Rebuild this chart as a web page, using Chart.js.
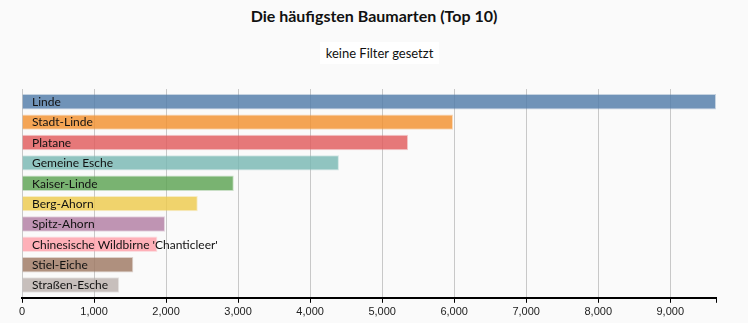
<!DOCTYPE html>
<html>
<head>
<meta charset="utf-8">
<script src="https://cdn.jsdelivr.net/npm/chart.js@4"></script>
<style>
  body { margin: 0; background: #fafafa; font-family: Lato, sans-serif; }
  #title { position: absolute; top: 6px; left: 0; width: 748px; text-align: center; font-weight: bold; font-size: 16px; color: #111; }
  #filter { position: absolute; top: 42px; left: 320px; width: 119px; height: 22px; line-height: 22px; text-align: center; background: #fff; font-size: 13px; color: #111; }
  #wrap { position: absolute; top: 85px; left: 0; width: 748px; height: 238px; }
</style>
</head>
<body>
<div id="title">Die häufigsten Baumarten (Top 10)</div>
<div id="filter">keine Filter gesetzt</div>
<div id="wrap"><canvas id="barChart"></canvas></div>
<script>
const species = ['Linde', 'Stadt-Linde', 'Platane', 'Gemeine Esche', 'Kaiser-Linde', 'Berg-Ahorn',
  'Spitz-Ahorn', "Chinesische Wildbirne 'Chanticleer'", 'Stiel-Eiche', 'Straßen-Esche'];
const counts = [9635, 5985, 5360, 4400, 2940, 2440, 1985, 1880, 1545, 1350];
const tickValues = [0, 1000, 2000, 3000, 4000, 5000, 6000, 7000, 8000, 9000];
const colors = ['#4e79a7', '#f28e2b', '#e15759', '#76b7b2', '#59a14f', '#edc948',
  '#b07aa1', '#ff9da7', '#9c755f', '#bab0ac'];

function fade(hex, a) {
    var r = parseInt(hex.slice(1, 3), 16);
    var g = parseInt(hex.slice(3, 5), 16);
    var b = parseInt(hex.slice(5, 7), 16);
    return 'rgba(' + r + ',' + g + ',' + b + ',' + a + ')';
}

const maxCount = Math.max(...counts);
const edge = 0.625; // outer padding of the band, in bar slots

// writes the species name inside each bar
const barLabels = {
    id: 'barLabels',
    afterDatasetsDraw(chart) {
        const ctx = chart.ctx;
        const yScale = chart.scales.y;
        ctx.save();
        ctx.font = '12px Lato';
        ctx.fillStyle = '#111';
        ctx.textBaseline = 'middle';
        ctx.textAlign = 'left';
        species.forEach(function (name, i) {
            ctx.fillText(name, chart.chartArea.left + 10, yScale.getPixelForValue(i) + 0.5);
        });
        ctx.restore();
    }
};

const ctx = document.getElementById('barChart').getContext('2d');
const myChart = new Chart(ctx, {
    type: 'bar',
    data: {
        datasets: [{
            data: counts.map((v, i) => ({ x: v, y: i })),
            backgroundColor: colors.map(c => fade(c, 0.8)),
            borderColor: colors.map(c => fade(c, 0.3)),
            borderWidth: 1,
            categoryPercentage: 0.87,
            barPercentage: 0.87
        }]
    },
    options: {
        indexAxis: 'y',
        responsive: true,
        maintainAspectRatio: false,
        animation: false,
        layout: { padding: { left: 22, right: 32, top: 4, bottom: 1 } },
        plugins: {
            legend: { display: false },
            tooltip: { enabled: false }
        },
        scales: {
            x: {
                min: 0,
                max: maxCount,
                afterBuildTicks: function (scale) {
                    scale.ticks = tickValues.concat([maxCount]).map(v => ({ value: v }));
                },
                border: { color: '#000', width: 2 },
                grid: {
                    color: c => (c.tick && c.tick.value !== maxCount) ? 'rgba(0,0,0,0.2)' : 'rgba(0,0,0,0)',
                    tickColor: '#000',
                    tickLength: 5,
                    lineWidth: 1
                },
                ticks: {
                    autoSkip: false,
                    maxRotation: 0,
                    padding: 3,
                    color: '#222',
                    font: { family: 'Liberation Sans', size: 11 },
                    callback: v => v === maxCount ? '' : v.toLocaleString('en-US')
                }
            },
            y: {
                type: 'linear',
                display: false,
                reverse: true,
                offset: false,
                bounds: 'data',
                min: -edge,
                max: species.length - 1 + edge,
                afterBuildTicks: function (scale) {
                    scale.ticks = species.map((s, i) => ({ value: i }));
                }
            }
        }
    },
    plugins: [barLabels]
});
</script>
</body>
</html>
